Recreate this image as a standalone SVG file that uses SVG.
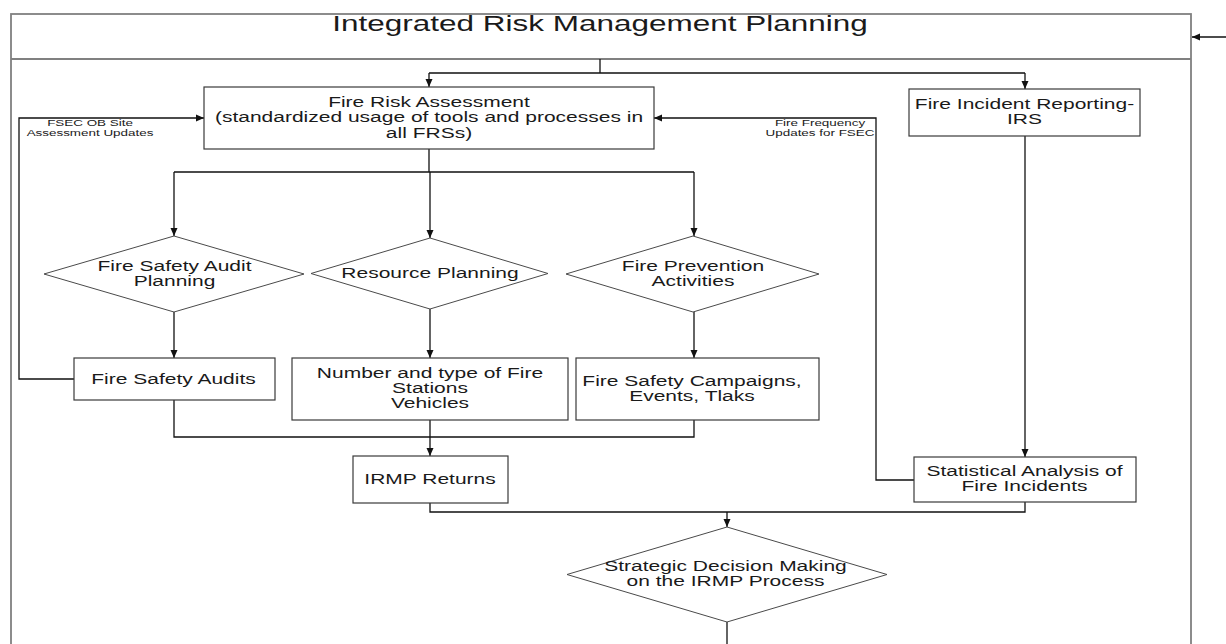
<svg xmlns="http://www.w3.org/2000/svg" width="1226" height="644" viewBox="0 0 1226 644">
  <style>
    .frame { fill: none; stroke: #808080; stroke-width: 1.8; }
    .box { fill: #ffffff; stroke: #3a3a3a; stroke-width: 1.2; }
    .dia { fill: #ffffff; stroke: #4a4a4a; stroke-width: 1; }
    .wire { fill: none; stroke: #111111; stroke-width: 1.3; }
    .wire-a { fill: none; stroke: #111111; stroke-width: 1.3; marker-end: url(#arrow); }
    text { font-family: "Liberation Sans", Arial, sans-serif; fill: #1a1a1a; text-anchor: middle; }
    .t { font-size: 15px; }
    .title { font-size: 22.5px; }
    .small { font-size: 9.6px; }
  </style>
  <defs>
    <marker id="arrow" markerUnits="userSpaceOnUse" markerWidth="9" markerHeight="8" refX="8" refY="4" orient="auto">
      <path d="M0,0.5 L8,4 L0,7.5 Z" fill="#111111"/>
    </marker>
  </defs>

  <rect width="1226" height="644" fill="#ffffff"/>

  <!-- outer swimlane frame with title strip -->
  <g id="frame">
    <rect class="frame" x="11" y="14" width="1180" height="660"/>
    <line class="frame" x1="11" y1="59" x2="1191" y2="59"/>
    <text class="title" transform="translate(600 0) scale(1.4 1)" y="31">Integrated Risk Management Planning</text>
  </g>

  <!-- connectors -->
  <g id="connectors">
    <path class="wire-a" d="M1226,37 H1192"/>
    <path class="wire" d="M600,59 V73 M429,73 H1025"/>
    <path class="wire-a" d="M429,73 V87"/>
    <path class="wire-a" d="M1025,73 V89"/>
    <path class="wire-a" d="M74,379 H19 V118 H204"/>
    <path class="wire-a" d="M914,480 H876 V118 H654"/>
    <path class="wire" d="M429,149 V172 M174,172 H694"/>
    <path class="wire-a" d="M174,172 V236"/>
    <path class="wire-a" d="M430,172 V238"/>
    <path class="wire-a" d="M694,172 V236"/>
    <path class="wire-a" d="M174,312 V358"/>
    <path class="wire-a" d="M430,309 V358"/>
    <path class="wire-a" d="M694,312 V358"/>
    <path class="wire" d="M174,400 V437 H694 V420"/>
    <path class="wire-a" d="M430,420 V456"/>
    <path class="wire-a" d="M1025,136 V457"/>
    <path class="wire" d="M430,503 V512 H1025 V502"/>
    <path class="wire-a" d="M727,512 V527"/>
    <path class="wire" d="M727,622 V644"/>
    <text class="small" transform="translate(90 0) scale(1.4 1)" y="126">FSEC OB Site</text>
    <text class="small" transform="translate(90 0) scale(1.4 1)" y="136.5">Assessment Updates</text>
    <text class="small" transform="translate(820 0) scale(1.4 1)" y="126">Fire Frequency</text>
    <text class="small" transform="translate(820 0) scale(1.4 1)" y="136">Updates for FSEC</text>
  </g>

  <g id="fire-risk-assessment">
    <rect class="box" x="204" y="87" width="450" height="62"/>
    <text class="t" transform="translate(429 0) scale(1.4 1)" y="107">Fire Risk Assessment</text>
    <text class="t" transform="translate(429 0) scale(1.4 1)" y="122.5">(standardized usage of tools and processes in</text>
    <text class="t" transform="translate(429 0) scale(1.4 1)" y="138">all FRSs)</text>
  </g>

  <g id="fire-incident-reporting">
    <rect class="box" x="909" y="89" width="231" height="47"/>
    <text class="t" transform="translate(1024.5 0) scale(1.4 1)" y="109.5">Fire Incident Reporting-</text>
    <text class="t" transform="translate(1024.5 0) scale(1.4 1)" y="124.5">IRS</text>
  </g>

  <g id="audit-planning">
    <polygon class="dia" points="174,236 304,274 174,312 44,274"/>
    <text class="t" transform="translate(174.5 0) scale(1.4 1)" y="271">Fire Safety Audit</text>
    <text class="t" transform="translate(174.5 0) scale(1.4 1)" y="286.5">Planning</text>
  </g>

  <g id="resource-planning">
    <polygon class="dia" points="430,238 548,273.5 430,309 311,273.5"/>
    <text class="t" transform="translate(430 0) scale(1.4 1)" y="278.5">Resource Planning</text>
  </g>

  <g id="prevention-activities">
    <polygon class="dia" points="693,236 819,274 693,312 566,274"/>
    <text class="t" transform="translate(693 0) scale(1.4 1)" y="271">Fire Prevention</text>
    <text class="t" transform="translate(693 0) scale(1.4 1)" y="286">Activities</text>
  </g>

  <g id="fire-safety-audits">
    <rect class="box" x="74" y="358" width="201" height="42"/>
    <text class="t" transform="translate(173.5 0) scale(1.4 1)" y="384">Fire Safety Audits</text>
  </g>

  <g id="stations-vehicles">
    <rect class="box" x="292" y="358" width="276" height="62"/>
    <text class="t" transform="translate(430 0) scale(1.4 1)" y="378.5">Number and type of Fire</text>
    <text class="t" transform="translate(430 0) scale(1.4 1)" y="393.5">Stations</text>
    <text class="t" transform="translate(430 0) scale(1.4 1)" y="408.5">Vehicles</text>
  </g>

  <g id="safety-campaigns">
    <rect class="box" x="576" y="358" width="243" height="62"/>
    <text class="t" transform="translate(692 0) scale(1.4 1)" y="386">Fire Safety Campaigns,</text>
    <text class="t" transform="translate(692 0) scale(1.4 1)" y="401">Events, Tlaks</text>
  </g>

  <g id="irmp-returns">
    <rect class="box" x="353" y="456" width="155" height="47"/>
    <text class="t" transform="translate(430 0) scale(1.4 1)" y="483.5">IRMP Returns</text>
  </g>

  <g id="statistical-analysis">
    <rect class="box" x="914" y="457" width="222" height="45"/>
    <text class="t" transform="translate(1024.5 0) scale(1.4 1)" y="476">Statistical Analysis of</text>
    <text class="t" transform="translate(1024.5 0) scale(1.4 1)" y="491">Fire Incidents</text>
  </g>

  <g id="strategic-decision">
    <polygon class="dia" points="727,527 887,574.5 727,622 567,574.5"/>
    <text class="t" transform="translate(725.5 0) scale(1.4 1)" y="571">Strategic Decision Making</text>
    <text class="t" transform="translate(725.5 0) scale(1.4 1)" y="586">on the IRMP Process</text>
  </g>
</svg>
